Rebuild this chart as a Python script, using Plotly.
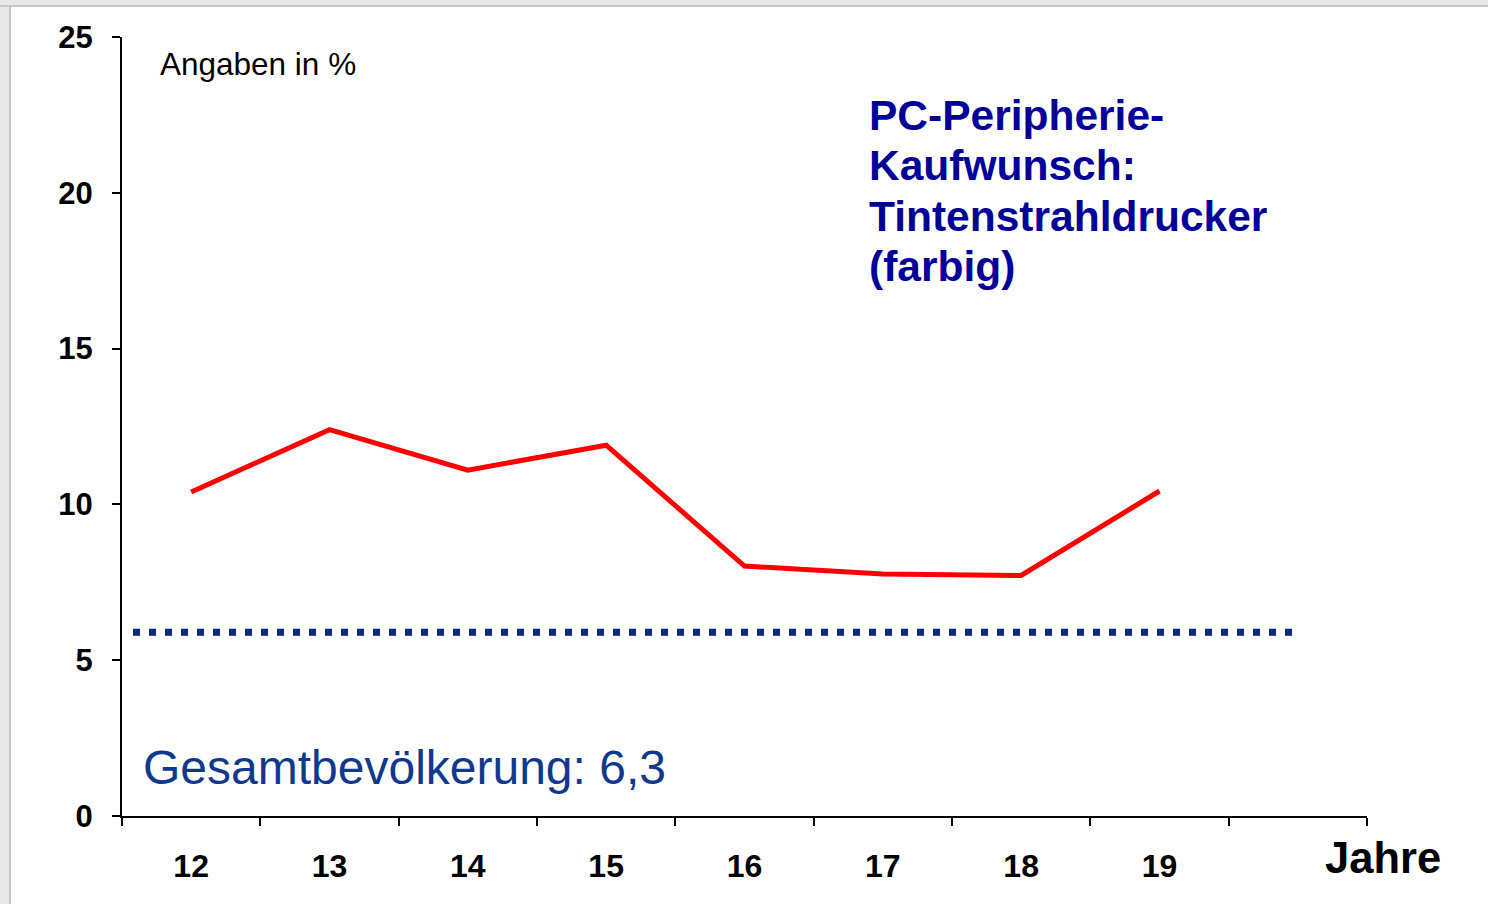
import plotly.graph_objects as go

# ---- data ----
years = ["12", "13", "14", "15", "16", "17", "18", "19"]
extra_slot = [" "]
share = [10.4, 12.4, 11.1, 11.9, 8.02, 7.77, 7.72, 10.43]
population_level = 5.9
y_ticks = [0, 5, 10, 15, 20, 25]
title_lines = ["PC-Peripherie-", "Kaufwunsch:", "Tintenstrahldrucker", "(farbig)"]

# ---- layout geometry (page pixels; figure sits inside the 8px body margin) ----
PAGE_W, PAGE_H = 1488, 904
OFF = 8
W, H = PAGE_W - 2 * OFF, PAGE_H - 2 * OFF
L, R, T, B = 122, 1367, 35, 833          # plot area in page pixels
MARGIN_T, MARGIN_B = 25, 47              # calibrated against the rendered page
def px(p):
    return (p - L) / (R - L)
def py(p):
    return (B - p) / (B - T)

FONT = "Liberation Sans, Arial, sans-serif"

fig = go.Figure()
fig.add_trace(go.Scatter(
    x=years, y=share, mode="lines",
    line=dict(color="#ff0000", width=5),
    hoverinfo="skip", showlegend=False,
))
fig.add_trace(go.Scatter(
    x=extra_slot, y=[None], mode="lines", showlegend=False, hoverinfo="skip",
))

fig.add_shape(type="line", xref="paper", yref="y",
              x0=px(133), x1=px(1292), y0=population_level, y1=population_level,
              line=dict(color="#00287f", width=7, dash="7px,9px"))

# left page border (part inside the figure)
fig.add_shape(type="rect", xref="paper", yref="paper", x0=px(OFF), x1=px(9), y0=py(0), y1=py(PAGE_H + 20),
              fillcolor="#e8e8e8", line_width=0, layer="below")
fig.add_shape(type="rect", xref="paper", yref="paper", x0=px(9), x1=px(11), y0=py(5), y1=py(PAGE_H + 20),
              fillcolor="#c8c8c8", line_width=0, layer="below")

fig.add_annotation(text="Angaben in %", xref="paper", yref="paper",
                   x=px(158), y=py(63), xanchor="left", yanchor="middle",
                   showarrow=False, font=dict(family=FONT, size=31.5, color="#000000"))
for i, line in enumerate(title_lines):
    fig.add_annotation(text=line, xref="paper", yref="paper",
                       x=px(867), y=py(115 + 51.7 * i),
                       xanchor="left", yanchor="middle", align="left", showarrow=False,
                       font=dict(family=FONT, size=42.5, color="#000099", weight="bold"))
fig.add_annotation(text="Gesamtbevölkerung: 6,3", xref="paper", yref="paper",
                   x=px(141), y=py(783), xanchor="left", yanchor="middle",
                   showarrow=False, font=dict(family=FONT, size=48, color="#10388c"))
fig.add_annotation(text="Jahre", xref="paper", yref="paper",
                   x=px(1383), y=py(876), xanchor="center", yanchor="middle",
                   showarrow=False, font=dict(family=FONT, size=43.5, color="#000000", weight="bold"))

fig.update_layout(
    width=W, height=H, autosize=False,
    margin=dict(l=L - OFF, r=(PAGE_W - OFF) - R, t=MARGIN_T, b=MARGIN_B, pad=0),
    paper_bgcolor="#ffffff", plot_bgcolor="#ffffff",
    xaxis=dict(
        type="category", categoryorder="array", categoryarray=years + extra_slot,
        range=[-0.5, len(years) + len(extra_slot) - 0.5],
        tickson="boundaries", ticks="outside", ticklen=8, tickwidth=2, tickcolor="#000000",
        showline=True, linecolor="#000000", linewidth=2, showgrid=False, zeroline=False,
        tickfont=dict(family=FONT, size=32, color="#000000", weight="bold"),
        ticklabelstandoff=21, fixedrange=True,
    ),
    yaxis=dict(
        range=[0, 25], tickvals=y_ticks, ticks="outside", ticklen=8, tickwidth=2,
        tickcolor="#000000", showline=True, linecolor="#000000", linewidth=2,
        showgrid=False, zeroline=False,
        tickfont=dict(family=FONT, size=31, color="#000000", weight="bold"),
        ticklabelstandoff=13, fixedrange=True,
    ),
)

bg = ("linear-gradient(to bottom, #e8e8e8 0px, #e8e8e8 5px, #c8c8c8 5px, #c8c8c8 7px, "
      "rgba(255,255,255,0) 7px), "
      "linear-gradient(to right, #e8e8e8 0px, #e8e8e8 9px, #c8c8c8 9px, #c8c8c8 11px, #ffffff 11px)")
fig.write_html("out.html", config={"displayModeBar": False, "responsive": False},
               post_script="document.body.style.background='%s';" % bg)
